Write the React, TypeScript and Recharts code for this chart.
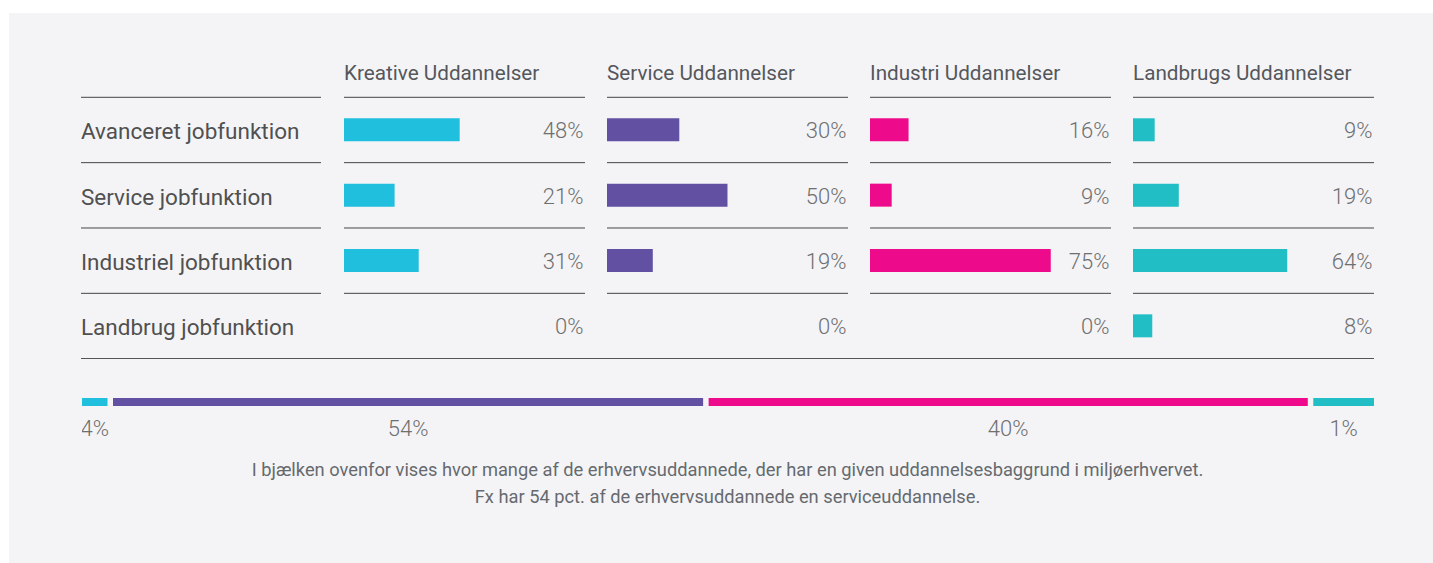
import React from "react";
import { BarChart, Bar, XAxis, YAxis, CartesianGrid, LabelList } from "recharts";

// rows (job functions) and panels (education background)
const jobFunctions = [
  "Avanceret jobfunktion",
  "Service jobfunktion",
  "Industriel jobfunktion",
  "Landbrug jobfunktion",
];
const educationTitles = [
  "Kreative Uddannelser",
  "Service Uddannelser",
  "Industri Uddannelser",
  "Landbrugs Uddannelser",
];

// share (%) of each job function within an education group
const kreativeShares = [48, 21, 31, 0];
const serviceShares = [30, 50, 19, 0];
const industriShares = [16, 9, 75, 0];
const landbrugShares = [9, 19, 64, 8];

// bottom bar: printed labels and the lengths the segments are drawn with (% of bar)
const shareKeys = ["kreative", "service", "industri", "landbrug"];
const educationShareLabels = [4, 54, 40, 1];
const educationShareBar = [2.4, 46.1, 46.8, 4.7];

const captionLines = [
  "I bjælken ovenfor vises hvor mange af de erhvervsuddannede, der har en given uddannelsesbaggrund i miljøerhvervet.",
  "Fx har 54 pct. af de erhvervsuddannede en serviceuddannelse.",
];

const educationColors = ["#21bfde", "#6251a3", "#ed0b8b", "#22bec5"];
const educationSeries = [kreativeShares, serviceShares, industriShares, landbrugShares];

const FONT = "Roboto, 'Noto Sans', sans-serif";
const LINE_COLOR = "#444";
const PCT_COLOR = "#6f6f6f";
const PANEL_W = 241;
const PANEL_LEFTS = [344, 607, 870, 1133];
const LABEL_LEFT = 81;
const ROW_H = 65.35;
const GRID_TOP = 97.3;
const CHART_TOP = 96;
const MARGIN_TOP = GRID_TOP - CHART_TOP;
const CHART_H = MARGIN_TOP + ROW_H * jobFunctions.length + 2;
const GAP = 5.5;

const rowData = jobFunctions.map((job) => ({ job }));

const rowLines = ({ offset }: any) =>
  jobFunctions.map((_, i) => offset.top + (i * offset.height) / jobFunctions.length);

const renderJobTick = (props: any) => (
  <text x={0} y={props.y} dy={9.3} textAnchor="start" fill="#505050" fontSize={22.5} fontFamily={FONT}>
    {props.payload.value}
  </text>
);

const PanelChart = ({ values, color }: { values: number[]; color: string }) => {
  const data = jobFunctions.map((job, i) => ({ job, value: values[i] }));
  // percent labels sit on a mirrored right axis so 0% rows get one too
  const renderPercentTick = (props: any) => (
    <text
      x={PANEL_W - 1.5}
      y={props.y}
      dy={8.3}
      textAnchor="end"
      fill={PCT_COLOR}
      fontSize={22}
      fontWeight={300}
      fontFamily={FONT}
    >
      {data[props.index].value}%
    </text>
  );
  return (
    <BarChart
      width={PANEL_W}
      height={CHART_H}
      data={data}
      layout="vertical"
      margin={{ top: MARGIN_TOP, right: 0, bottom: 2, left: 0 }}
    >
      <CartesianGrid vertical={false} stroke={LINE_COLOR} horizontalCoordinatesGenerator={rowLines} />
      <XAxis type="number" domain={[0, 100]} hide />
      <YAxis
        type="category"
        dataKey="job"
        orientation="right"
        mirror
        axisLine={false}
        tickLine={false}
        tick={renderPercentTick}
      />
      <Bar dataKey="value" fill={color} barSize={23} isAnimationActive={false} />
    </BarChart>
  );
};

const shareRow = [
  {
    name: "Uddannelsesbaggrund",
    ...Object.fromEntries(shareKeys.map((k, i) => [k, educationShareBar[i]])),
  },
];

const App = () => {
  return (
    <div
      style={{
        position: "absolute",
        left: 0,
        top: 0,
        width: 1433,
        height: 563,
        background: "#fff",
        overflow: "hidden",
        fontFamily: FONT,
      }}
    >
      <div style={{ position: "absolute", left: 9, top: 13, right: 0, bottom: 0, background: "#f4f4f7" }} />

      {educationTitles.map((title, i) => (
        <div
          key={title}
          style={{
            position: "absolute",
            left: PANEL_LEFTS[i],
            top: 62.8,
            fontSize: 20.7,
            lineHeight: 1,
            color: "#54575c",
            whiteSpace: "nowrap",
          }}
        >
          {title}
        </div>
      ))}

      <div style={{ position: "absolute", left: LABEL_LEFT, top: CHART_TOP }}>
        <BarChart
          width={240}
          height={CHART_H}
          data={rowData}
          layout="vertical"
          margin={{ top: MARGIN_TOP, right: 0, bottom: 2, left: 0 }}
        >
          <CartesianGrid vertical={false} stroke={LINE_COLOR} horizontalCoordinatesGenerator={rowLines} />
          <XAxis type="number" domain={[0, 100]} hide />
          <YAxis type="category" dataKey="job" mirror axisLine={false} tickLine={false} tick={renderJobTick} />
        </BarChart>
      </div>

      {educationSeries.map((values, i) => (
        <div key={educationTitles[i]} style={{ position: "absolute", left: PANEL_LEFTS[i], top: CHART_TOP }}>
          <PanelChart values={values} color={educationColors[i]} />
        </div>
      ))}

      <div style={{ position: "absolute", left: LABEL_LEFT, top: 358.2, width: 1293, height: 1, background: "#555" }} />

      <div style={{ position: "absolute", left: 82, top: 380 }}>
        <BarChart
          width={1292}
          height={60}
          data={shareRow}
          layout="vertical"
          margin={{ top: 10, right: 0, bottom: 26, left: 0 }}
        >
          <XAxis type="number" domain={[0, 100]} hide />
          <YAxis type="category" dataKey="name" hide />
          {shareKeys.map((key, i) => {
            const gap = i < shareKeys.length - 1 ? GAP : 0;
            return (
              <Bar
                key={key}
                dataKey={key}
                stackId="share"
                fill={educationColors[i]}
                barSize={8}
                isAnimationActive={false}
                shape={(p: any) => (
                  <rect x={p.x} y={p.y} width={Math.max(0, p.width - gap)} height={p.height} fill={p.fill} />
                )}
              >
                <LabelList
                  dataKey={key}
                  content={(p: any) => (
                    <text
                      x={Number(p.x) + (Number(p.width) - gap) / 2}
                      y={Number(p.y) + Number(p.height)}
                      dy={30.3}
                      textAnchor="middle"
                      fill={PCT_COLOR}
                      fontSize={22}
                      fontWeight={300}
                      fontFamily={FONT}
                    >
                      {educationShareLabels[i]}%
                    </text>
                  )}
                />
              </Bar>
            );
          })}
        </BarChart>
      </div>

      <div
        style={{
          position: "absolute",
          left: 0,
          top: 457.3,
          width: 1455,
          textAlign: "center",
          fontSize: 18.3,
          lineHeight: "26.3px",
          color: "#666a6e",
        }}
      >
        {captionLines.map((line) => (
          <div key={line}>{line}</div>
        ))}
      </div>
    </div>
  );
};

export default App;
